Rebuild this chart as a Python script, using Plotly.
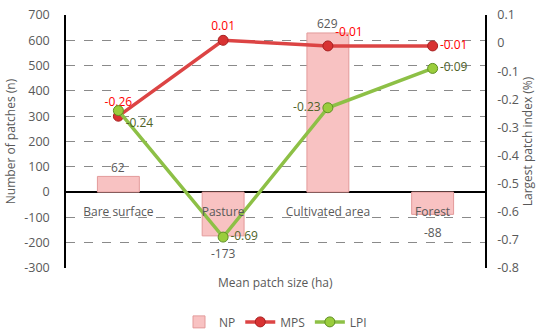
import plotly.graph_objects as go

categories = ["Bare surface", "Pasture", "Cultivated area", "Forest"]
np_values = [62, -173, 629, -88]
mps_values = [-0.26, 0.01, -0.01, -0.01]
lpi_values = [-0.24, -0.69, -0.23, -0.09]
np_labels = ["62", "-173", "629", "-88"]
mps_labels = ["-0.26", "0.01", "-0.01", "-0.01"]
lpi_labels = ["-0.24", "-0.69", "-0.23", "-0.09"]
left_ticks = [700, 600, 500, 400, 300, 200, 100, 0, -100, -200, -300]
left_tick_text = ["700", "600", "500", "400", "300", "200", "100", "0", "-100", "-200", "-300"]
right_ticks = [0.1, 0, -0.1, -0.2, -0.3, -0.4, -0.5, -0.6, -0.7, -0.8]
right_tick_text = ["0.1", "0", "-0.1", "-0.2", "-0.3", "-0.4", "-0.5", "-0.6", "-0.7", "-0.8"]

GREY = "#595959"
FONT = "Open Sans"

fig = go.Figure()
fig.add_trace(go.Bar(
    x=categories, y=np_values, name="NP", width=0.4,
    marker=dict(color="#f8c2c2", line=dict(color="#e39a9a", width=1)),
))
fig.add_trace(go.Scatter(
    x=categories, y=mps_values, name="MPS", yaxis="y2", mode="lines+markers+text",
    line=dict(color="#dc4444", width=3.5),
    marker=dict(color="#d83232", size=10, line=dict(color="#a82020", width=1)),
    text=mps_labels, textposition=["top center", "top center", "top right", "middle right"],
    textfont=dict(color="#ff0000", size=12, family=FONT), cliponaxis=False,
))
fig.add_trace(go.Scatter(
    x=categories, y=lpi_values, name="LPI", yaxis="y2", mode="lines+markers+text",
    line=dict(color="#8dc046", width=3.5),
    marker=dict(color="#9acd3c", size=10, line=dict(color="#5f8f24", width=1)),
    text=lpi_labels, textposition=["bottom right", "middle right", "middle left", "middle right"],
    textfont=dict(color="#4f6228", size=12, family=FONT), cliponaxis=False,
))

annotations = [dict(
    text="Mean patch size (ha)", x=0.5, y=-0.015, xref="paper", yref="paper",
    xanchor="center", yanchor="top", showarrow=False, font=dict(size=12, color=GREY),
)]
for cat, val, lab in zip(categories, np_values, np_labels):
    annotations.append(dict(
        x=cat, y=val, xref="x", yref="y", text=lab, showarrow=False,
        yanchor="middle", yshift=9 if val >= 0 else -18,
        font=dict(size=12, color=GREY, family=FONT),
    ))

fig.update_layout(
    width=550, height=335,
    margin=dict(l=66, r=65, t=15, b=67, autoexpand=False),
    paper_bgcolor="white", plot_bgcolor="white",
    font=dict(family=FONT, color=GREY, size=12),
    showlegend=True,
    legend=dict(orientation="h", x=0.5, xanchor="center", y=-0.213, yanchor="middle",
                font=dict(size=12, color=GREY), tracegroupgap=0),
    xaxis=dict(
        type="category", anchor="free", position=0.3, showline=False, ticks="",
        showgrid=False, tickfont=dict(size=12, color=GREY), layer="above traces",
        automargin=False, ticklabelstandoff=11,
    ),
    yaxis=dict(
        range=[-300, 700], tickvals=left_ticks, ticktext=left_tick_text,
        showline=True, linecolor="black", linewidth=1.5,
        showgrid=True, gridcolor="#8a8a8a", griddash="dash", gridwidth=1,
        zeroline=True, zerolinecolor="black", zerolinewidth=1.5,
        tickfont=dict(size=12.5, color=GREY), ticks="", automargin=False,
        ticklabelstandoff=12, ticklabeloverflow="allow",
        title=dict(text="Number of patches (n)", font=dict(size=12, color=GREY), standoff=6),
    ),
    yaxis2=dict(
        range=[-0.8, 0.1], overlaying="y", side="right", tickvals=right_ticks,
        ticktext=right_tick_text, showline=True, linecolor="black", linewidth=1.5,
        showgrid=False, zeroline=False, tickfont=dict(size=12.5, color=GREY), ticks="",
        automargin=False, ticklabelstandoff=8, ticklabeloverflow="allow",
        title=dict(text="Largest patch index (%)", font=dict(size=12, color=GREY), standoff=6),
    ),
    annotations=annotations,
)

fig.write_html("out.html", config={"displayModeBar": False},
               post_script="document.body.style.margin='0px';")
